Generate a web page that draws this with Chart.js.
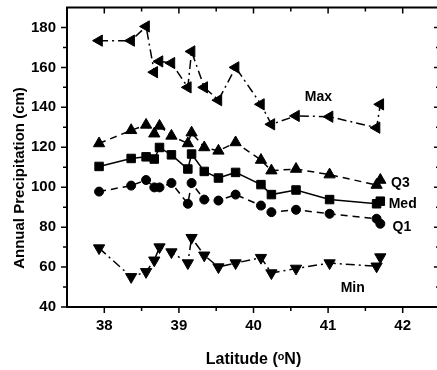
<!DOCTYPE html>
<html>
<head>
<meta charset="utf-8">
<script src="https://cdn.jsdelivr.net/npm/chart.js@4/dist/chart.umd.min.js"></script>
<style>
  html, body { margin: 0; padding: 0; background: #fff; overflow: hidden; }
  /* plot frame runs slightly past the right edge of the window, as in the original */
  #wrap { width: 448px; height: 370px; }
</style>
</head>
<body>
<div id="wrap"><canvas id="chart"></canvas></div>
<script>
// station latitudes (deg N), shared by all five series
const latitude = [37.93, 38.36, 38.56, 38.67, 38.74, 38.9, 39.12, 39.17, 39.34, 39.53, 39.76, 40.1, 40.24, 40.57, 41.02, 41.65, 41.7];

// annual precipitation (cm)
const maxPrecip = [173.4, 173.4, 180.5, 157.6, 163, 162.2, 150, 168, 150, 143.6, 160, 141.5, 131.5, 135.7, 135.3, 129.8, 141.5];
const q3Precip  = [121.9, 128.5, 131.2, 126.8, 130.7, 125.7, 121.9, 127.3, 119.9, 118.2, 122.4, 113.6, 108.3, 109.1, 106.3, 101.1, 103.6];
const medPrecip = [110.4, 114.4, 115.2, 114.1, 119.9, 116.2, 109.1, 116.6, 107.9, 104.6, 107.4, 101.3, 96.3, 98.6, 93.8, 91.7, 93];
const q1Precip  = [97.8, 100.8, 103.6, 99.9, 99.9, 102.1, 91.7, 102.1, 93.8, 93.3, 96.3, 90.8, 87.5, 88.7, 86.7, 84.2, 81.7];
const minPrecip = [69.5, 55.1, 57.6, 63.4, 70, 67.5, 62, 74.7, 65.9, 60, 62, 64.7, 57, 59.3, 62, 60.4, 65];

// in-plot series labels and where they sit (data units)
const seriesNames = ['Max', 'Q3', 'Med', 'Q1', 'Min'];
const nameLat = [40.87, 41.97, 42.0, 41.99, 41.33];
const namePrecip = [145.1, 101.8, 91.4, 79.9, 49.6];

const xTickLabels = [38, 39, 40, 41, 42];
const yTickLabels = [40, 60, 80, 100, 120, 140, 160, 180];

const xTitle = 'Latitude (\u1D52N)';
const yTitle = 'Annual Precipitation (cm)';

const FONT = "'Liberation Sans', Arial, sans-serif";
const dashDot = [9, 4, 2, 4];
const dashed = [7, 5];

const pts = vals => latitude.map((lat, i) => ({ x: lat, y: vals[i] }));

function series(label, vals, style, rotation, radius, dash) {
    return {
        label,
        data: pts(vals),
        borderColor: '#000',
        backgroundColor: '#000',
        borderWidth: 1.5,
        borderDash: dash,
        pointStyle: style,
        rotation,
        pointRadius: radius,
        pointBorderWidth: 1,
        tension: 0
    };
}

// frame, inward/outward tick marks, series names and the y title
const decorations = {
    id: 'decorations',
    afterDraw(chart) {
        const { ctx, chartArea: a, scales: { x, y } } = chart;
        ctx.save();
        ctx.strokeStyle = '#000';
        ctx.lineWidth = 2;
        ctx.strokeRect(a.left, a.top, a.right - a.left, a.bottom - a.top);

        ctx.lineWidth = 1.5;
        ctx.beginPath();
        x.ticks.forEach(t => {
            if (t.value <= x.min || t.value >= x.max) return;
            const px = x.getPixelForValue(t.value);
            const len = xTickLabels.includes(t.value) ? 6 : 4;
            ctx.moveTo(px, a.bottom); ctx.lineTo(px, a.bottom + len);
            ctx.moveTo(px, a.top); ctx.lineTo(px, a.top + len);
        });
        y.ticks.forEach(t => {
            if (t.value >= y.max) return;
            const py = y.getPixelForValue(t.value);
            const len = yTickLabels.includes(t.value) ? 6 : 4;
            ctx.moveTo(a.left, py); ctx.lineTo(a.left - len, py);
            ctx.moveTo(a.right, py); ctx.lineTo(a.right - len, py);
        });
        ctx.stroke();

        ctx.fillStyle = '#000';
        ctx.font = 'bold 14px ' + FONT;
        ctx.textAlign = 'center';
        ctx.textBaseline = 'middle';
        seriesNames.forEach((name, i) => {
            ctx.fillText(name, x.getPixelForValue(nameLat[i]), y.getPixelForValue(namePrecip[i]));
        });

        ctx.font = 'bold 15px ' + FONT;
        ctx.translate(20, 178);
        ctx.rotate(-Math.PI / 2);
        ctx.fillText(yTitle, 0, 0);
        ctx.restore();
    }
};

new Chart(document.getElementById('chart'), {
    type: 'line',
    data: {
        datasets: [
            series('Max', maxPrecip, 'triangle', -90, 6.5, dashDot),
            series('Q3', q3Precip, 'triangle', 0, 6.5, dashed),
            series('Med', medPrecip, 'rect', 0, 6, []),
            series('Q1', q1Precip, 'circle', 0, 4.5, dashed),
            series('Min', minPrecip, 'triangle', 180, 6.5, dashDot)
        ]
    },
    options: {
        responsive: true,
        maintainAspectRatio: false,
        animation: false,
        layout: { padding: { top: 7, right: 8, left: 0, bottom: 0 } },
        plugins: {
            legend: { display: false },
            tooltip: { enabled: false }
        },
        scales: {
            x: {
                type: 'linear',
                min: 37.5,
                max: 42.5,
                grid: { display: false, drawTicks: false },
                border: { display: false },
                afterFit: s => { s.height = 63; s.paddingLeft = 0; s.paddingRight = 0; },
                ticks: {
                    stepSize: 0.5,
                    padding: 10,
                    color: '#000',
                    font: { family: FONT, size: 15, weight: 'bold' },
                    autoSkip: false,
                    maxRotation: 0,
                    callback: v => xTickLabels.includes(v) ? String(v) : ''
                },
                title: {
                    display: true,
                    text: xTitle,
                    color: '#000',
                    font: { family: FONT, size: 16, weight: 'bold' },
                    padding: { top: 4, bottom: 1 }
                }
            },
            y: {
                min: 40,
                max: 190,
                grid: { display: false, drawTicks: false },
                border: { display: false },
                afterFit: s => { s.width = 67; s.paddingTop = 0; s.paddingBottom = 0; },
                ticks: {
                    stepSize: 10,
                    padding: 11,
                    color: '#000',
                    font: { family: FONT, size: 15, weight: 'bold' },
                    autoSkip: false,
                    callback: v => yTickLabels.includes(v) ? String(v) : ''
                }
            }
        }
    },
    plugins: [decorations]
});
</script>
</body>
</html>
